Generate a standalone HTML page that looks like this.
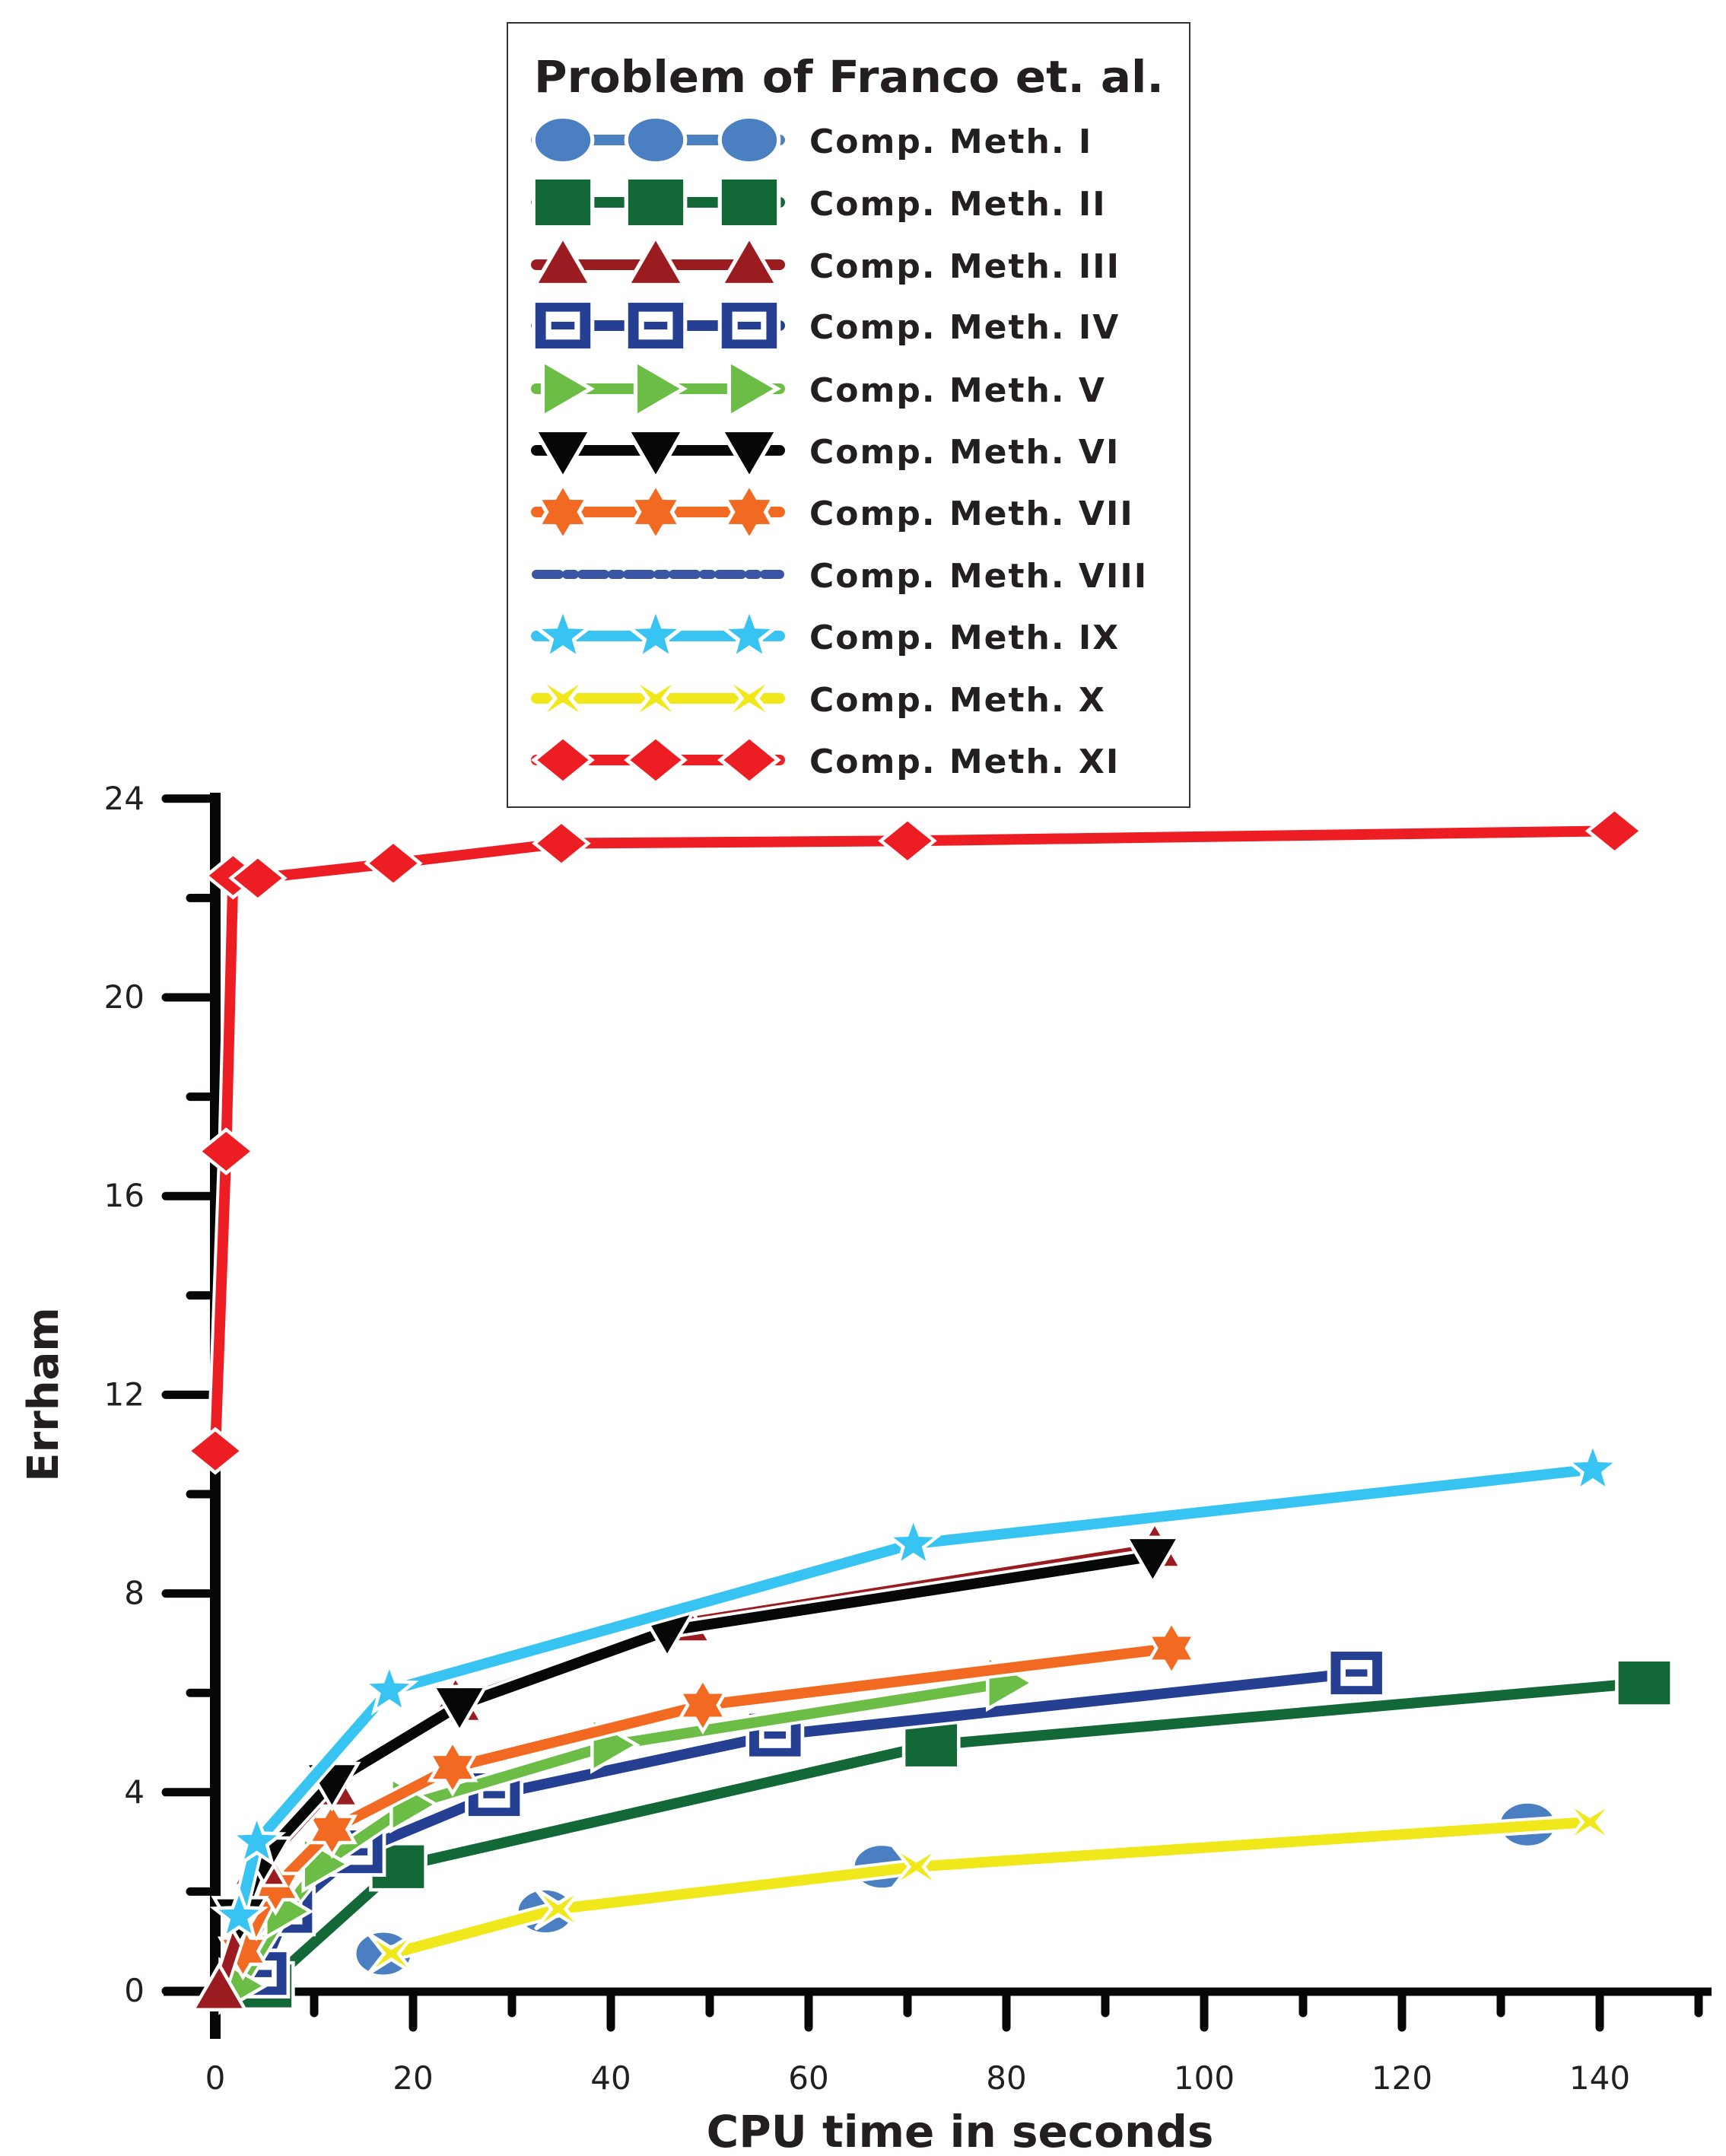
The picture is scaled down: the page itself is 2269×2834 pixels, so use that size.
<!DOCTYPE html>
<html><head><meta charset="utf-8"><style>
html,body{margin:0;padding:0;background:#fff}
svg{display:block}
text{font-family:"DejaVu Sans","Liberation Sans",sans-serif}
</style></head><body>
<svg id="chart" width="2269" height="2834" viewBox="0 0 2269 2834" xmlns="http://www.w3.org/2000/svg">
<g id="axes"></g>
<g id="plot"></g>
<g id="legend">
<rect x="667" y="30" width="897" height="1031" fill="#fff" stroke="#333" stroke-width="2"/>
<text x="702" y="121" font-size="58" font-weight="bold" fill="#231f20" textLength="828" lengthAdjust="spacingAndGlyphs">Problem of Franco et. al.</text>
</g>
<text transform="translate(76,1833) rotate(-90)" text-anchor="middle" font-size="56" font-weight="bold" fill="#231f20">Errham</text>
<text x="1262" y="2822" text-anchor="middle" font-size="58" font-weight="bold" fill="#231f20">CPU time in seconds</text>
</svg>
<script>
const xTicks=[0,20,40,60,80,100,120,140];
const yTicks=[0,4,8,12,16,20,24];
const names=["Comp. Meth. I","Comp. Meth. II","Comp. Meth. III","Comp. Meth. IV","Comp. Meth. V","Comp. Meth. VI","Comp. Meth. VII","Comp. Meth. VIII","Comp. Meth. IX","Comp. Meth. X","Comp. Meth. XI"];
const colors=["#4a7fc1","#136837","#9b1c20","#253f92","#6cbd45","#060807","#f26a22","#3a55a4","#37c4f2","#f0e81a","#ed1d24"];
const markers=["circle","square","tri","hsquare","right","down","hex","none","star","x4","diamond"];
const m1x=[17,33.4,67.4,132.7], m1y=[0.75,1.6,2.5,3.35];
const m2x=[5.1,18.5,72.4,144.5], m2y=[0.1,2.5,4.95,6.2];
const m3x=[0.4,4.5,11.8,24.3,47.4,95], m3y=[0,2.5,4.1,5.8,7.4,8.9];
const m4x=[4.6,7.2,14.3,28.2,56.6,115.4], m4y=[0.35,1.6,2.8,3.95,5.15,6.4];
const m5x=[2.4,7,10.8,19.7,40,80], m5y=[0.1,1.6,2.55,3.75,4.95,6.2];
const m6x=[2.5,4.9,11.8,24.7,45.7,94.8], m6y=[1.5,2.7,4.2,5.75,7.25,8.75];
const m7x=[2.8,6.1,11.8,24,49.3,96.7], m7y=[0.8,2.1,3.25,4.5,5.75,6.9];
const m9x=[2.4,4.2,17.6,70.6,139.3], m9y=[1.5,3.0,6.05,9.0,10.5];
const m10x=[17.8,34.7,70.9,139], m10y=[0.75,1.65,2.5,3.4];
const m11x=[0,1.1,1.8,4.3,18,35,70,141.5], m11y=[10.87,16.9,22.45,22.4,22.7,23.1,23.15,23.35];
const NS="http://www.w3.org/2000/svg";
const X=v=>283+v*13.0, Y=v=>2617-v*65.3;
function mk(tag,attrs,parent){const e=document.createElementNS(NS,tag);for(const k in attrs)e.setAttribute(k,attrs[k]);parent.appendChild(e);return e;}
const axes=document.getElementById('axes');
const ax=mk('line',{x1:283,y1:1042,x2:283,y2:2680,stroke:'#060807','stroke-width':14},axes);


const xl=mk('line',{x1:215,y1:2618,x2:2250,y2:2618,stroke:'#060807','stroke-width':11},axes);


for(let v=0;v<=24;v+=2){const major=v%4===0;const t=mk('line',{x1:major?218:250,y1:Y(v),x2:283,y2:Y(v),stroke:'#060807','stroke-width':11,'stroke-linecap':'round'},axes);

}
yTicks.forEach(v=>{const t=mk('text',{x:190,y:Y(v)+14,'text-anchor':'end','font-size':42,fill:'#231f20','font-family':'Liberation Sans, sans-serif'},axes);t.textContent=v;

});
for(let v=10;v<=150;v+=10){const major=v%20===0;const t=mk('line',{x1:X(v),y1:2618,x2:X(v),y2:major?2665:2646,stroke:'#060807','stroke-width':11,'stroke-linecap':'round'},axes);

}
xTicks.forEach(v=>{const t=mk('text',{x:X(v),y:2746,'text-anchor':'middle','font-size':42,fill:'#231f20','font-family':'Liberation Sans, sans-serif'},axes);t.textContent=v;

});
function star(n,ro,ri){let p=[];for(let i=0;i<2*n;i++){const a=-Math.PI/2+i*Math.PI/n;const r=i%2?ri:ro;p.push((r*Math.cos(a)).toFixed(1)+','+(r*Math.sin(a)).toFixed(1));}return p.join(' ');}
function marker(type,cx,cy,col,s,g){
  const st={fill:col,stroke:'#fff','stroke-width':5*s};let e;
  const T=`translate(${cx},${cy}) scale(${s})`;
  switch(type){
  case 'circle':e=mk('ellipse',Object.assign({cx:0,cy:0,rx:38,ry:30,transform:T},st),g);break;
  case 'square':e=mk('rect',Object.assign({x:-38,y:-32,width:76,height:64,transform:T},st),g);break;
  case 'hsquare':e=mk('g',{transform:T},g);mk('rect',{x:-38,y:-32,width:76,height:64,fill:col,stroke:'#fff','stroke-width':5},e);mk('rect',{x:-22,y:-18,width:44,height:36,fill:'#fff'},e);mk('rect',{x:-15,y:-5,width:30,height:10,fill:col},e);break;
  case 'tri':e=mk('polygon',Object.assign({points:'0,-36 36,26 -36,26',transform:T},st),g);break;
  case 'down':e=mk('polygon',Object.assign({points:'0,36 36,-26 -36,-26',transform:T},st),g);break;
  case 'right':e=mk('polygon',Object.assign({points:'36,0 -26,-36 -26,36',transform:T},st),g);break;
  case 'hex':e=mk('polygon',Object.assign({points:star(6,36,21),transform:T},st),g);break;
  case 'star':e=mk('polygon',Object.assign({points:star(5,36,15),transform:T},st),g);break;
  case 'x4':e=mk('polygon',Object.assign({points:'-32,-28 0,-8 32,-28 10,0 32,28 0,8 -32,28 -10,0',transform:T},st),g);break;
  case 'diamond':e=mk('polygon',Object.assign({points:'0,-30 37,0 0,30 -37,0',transform:T},st),g);break;
  default:return;}
  
  
}
const plot=document.getElementById('plot');
const series=[[10,m11x,m11y],[1,m2x,m2y],[3,m4x,m4y],[4,m5x,m5y],[6,m7x,m7y],[2,m3x,m3y],[5,m6x,m6y],[8,m9x,m9y],[0,m1x,m1y],[9,m10x,m10y]];
series.forEach(([i,xs,ys])=>{
  const g=mk('g',{},plot);
  
  
  const pts=xs.map((x,j)=>X(x)+','+Y(ys[j])).join(' ');
  const pl=mk('polyline',{points:pts,fill:'none',stroke:'#fff','stroke-width':i==0?14:22,'stroke-linejoin':'round'},g);
  
  
  const l=mk('polyline',{points:pts,fill:'none',stroke:colors[i],'stroke-width':i==0?7:14,'stroke-linejoin':'round'},g);
  
  
  xs.forEach((x,j)=>marker(markers[i],X(x),Y(ys[j]),colors[i],i==0?1:0.95,g));
});
const leg=document.getElementById('legend');
const rowY=[184,266,348,428,511,592,673,755,836,918,999];
names.forEach((n,i)=>{
  const g=mk('g',{},leg);
  
  
  const y=rowY[i];
  const l=mk('line',{x1:705,y1:y,x2:1025,y2:y,stroke:colors[i],'stroke-width':i==7?12:14,'stroke-linecap':'round','stroke-dasharray':i==7?'30 10 10 10':'none'},g);
  
  
  [740,862,985].forEach(x=>marker(markers[i],x,y,colors[i],1.02,g));
  const t=mk('text',{x:1064,y:y+17,'font-size':44,'font-weight':'bold',fill:'#231f20','letter-spacing':'2'},g);
  t.textContent=n;
  
  
});
</script>
</body></html>
